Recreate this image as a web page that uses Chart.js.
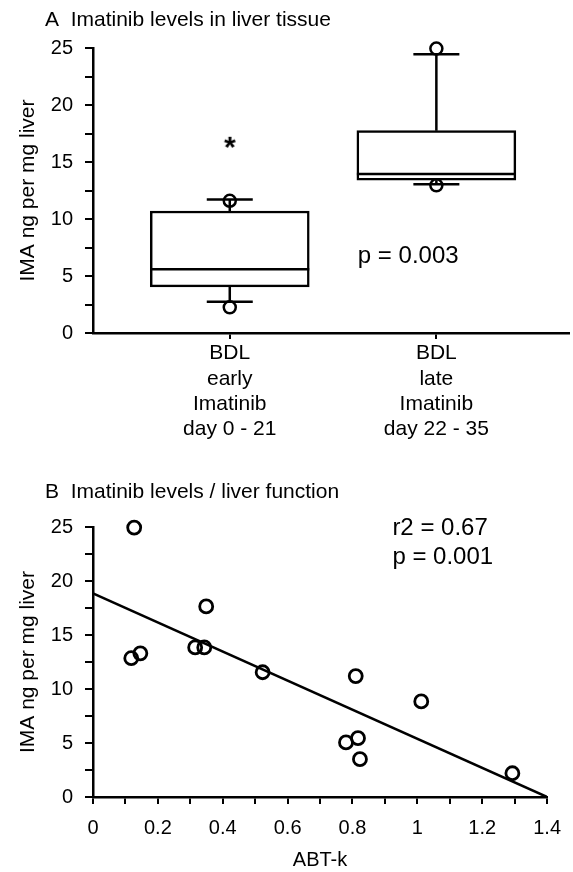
<!DOCTYPE html>
<html>
<head>
<meta charset="utf-8">
<title>Imatinib levels</title>
<script src="https://cdn.jsdelivr.net/npm/chart.js"></script>
<style>
  html, body { margin: 0; padding: 0; background: #fff; }
  canvas { position: absolute; left: 0; }
  #chartA { top: 0; }
  #chartB { top: 440px; }
</style>
</head>
<body>
<canvas id="chartA" width="573" height="440"></canvas>
<canvas id="chartB" width="573" height="432"></canvas>
<script>
// ---- panel A: box plot ----
const groups = [['BDL', 'early', 'Imatinib', 'day 0 - 21'], ['BDL', 'late', 'Imatinib', 'day 22 - 35']];
const groupPos = [1, 2];
const q1 = [4.05, 13.4];
const median = [5.6, 13.95];
const q3 = [10.7, 17.75];
const whiskerLow = [2.75, 13.05];
const whiskerHigh = [11.7, 24.45];
const pctLow = [2.25, 12.95];
const pctHigh = [11.6, 24.95];
const starX = [1];
const starY = [16.6];

// ---- panel B: scatter + regression ----
const abtK = [0.127, 0.118, 0.146, 0.315, 0.343, 0.349, 0.523, 0.81, 1.012, 0.78, 0.817, 0.823, 1.293];
const imaLevel = [24.95, 12.85, 13.3, 13.85, 13.85, 17.65, 11.55, 11.2, 8.85, 5.05, 5.45, 3.5, 2.2];
const fitX = [0, 1.4];
const fitY = [18.85, 0];

const FONT = '"Liberation Sans", Arial, sans-serif';
Chart.defaults.font.family = FONT;
Chart.defaults.color = '#000';

// writes the panel titles and stats text
const textPlugin = {
  id: 'panelText',
  afterDraw(chart, args, opts) {
    const ctx = chart.ctx;
    ctx.save();
    ctx.fillStyle = '#000';
    ctx.textBaseline = 'middle';
    (opts.items || []).forEach(t => {
      ctx.font = t.size + 'px ' + FONT;
      let x = t.px, y = t.py;
      if (t.x !== undefined) {
        x = chart.scales.x.getPixelForValue(t.x);
        y = chart.scales.y.getPixelForValue(t.y);
      }
      ctx.textAlign = 'left';
      ctx.fillText(t.text, x, y);
    });
    ctx.restore();
  }
};

// asterisk marker as a point style
const starImg = document.createElement('canvas');
starImg.width = 30; starImg.height = 30;
(function () {
  const c = starImg.getContext('2d');
  c.font = 'bold 30px ' + FONT;
  c.textAlign = 'center';
  c.textBaseline = 'alphabetic';
  c.fillStyle = '#000';
  c.fillText('*', 15, 15 + 0.57 * 30 - 4);
})();

function axisY() {
  return {
    type: 'linear', min: 0, max: 25,
    border: { color: '#000', width: 2.5 },
    grid: { drawOnChartArea: false, drawTicks: true, tickLength: 8, color: '#000', lineWidth: 2 },
    ticks: {
      stepSize: 2.5, padding: 12, font: { size: 20 },
      callback: v => (v % 5 === 0 ? String(v) : '')
    },
    title: { display: true, text: 'IMA ng per mg liver', font: { size: 21 }, padding: { top: 16, bottom: 0 } },
    afterFit: s => { s.width = 93; }
  };
}

// whisker segments with gaps between them
const whiskerData = [];
groupPos.forEach((x, i) => {
  whiskerData.push({ x, y: q3[i] }, { x, y: whiskerHigh[i] }, { x, y: null });
  whiskerData.push({ x, y: q1[i] }, { x, y: whiskerLow[i] }, { x, y: null });
});
const capData = [];
groupPos.forEach((x, i) => { capData.push({ x, y: whiskerLow[i] }, { x, y: whiskerHigh[i] }); });
const dotData = [];
groupPos.forEach((x, i) => { dotData.push({ x, y: pctLow[i] }, { x, y: pctHigh[i] }); });

new Chart(document.getElementById('chartA'), {
  type: 'bar',
  data: {
    datasets: [
      {
        type: 'line', data: whiskerData, borderColor: '#000', borderWidth: 2.5,
        pointRadius: 0, spanGaps: false, order: 4
      },
      {
        type: 'bar', data: groupPos.map((x, i) => ({ x, y: [q1[i], q3[i]] })),
        backgroundColor: '#fff', borderColor: '#000', borderWidth: 2.5,
        borderSkipped: false, barThickness: 159, order: 3
      },
      {
        type: 'line', data: groupPos.map((x, i) => ({ x, y: median[i] })), showLine: false,
        pointStyle: 'line', pointRadius: 79.5, borderColor: '#000', pointBorderWidth: 2.5, order: 1
      },
      {
        type: 'line', data: capData, showLine: false,
        pointStyle: 'line', pointRadius: 23, borderColor: '#000', pointBorderWidth: 2.5, order: 1
      },
      {
        type: 'line', data: dotData, showLine: false, clip: false,
        pointStyle: 'circle', pointRadius: 6, pointBorderWidth: 2.5,
        pointBorderColor: '#000', pointBackgroundColor: 'rgba(0,0,0,0)', order: 0
      },
      {
        type: 'line', data: starX.map((x, i) => ({ x, y: starY[i] })), showLine: false,
        pointStyle: starImg, order: 0
      }
    ]
  },
  options: {
    responsive: false, animation: false,
    layout: { autoPadding: false, padding: { top: 48, right: 4, left: 0, bottom: 0 } },
    plugins: {
      legend: { display: false }, tooltip: { enabled: false },
      panelText: { items: [
        { text: 'A  Imatinib levels in liver tissue', px: 45, py: 20, size: 21 },
        { text: 'p = 0.003', x: 1.62, y: 6.7, size: 24 }
      ] }
    },
    scales: {
      x: {
        type: 'linear', min: 0.338, max: 2.642, offset: false,
        border: { color: '#000', width: 2.5 },
        grid: { offset: false, drawOnChartArea: false, drawTicks: true, tickLength: 6, color: '#000', lineWidth: 2 },
        afterBuildTicks: s => { s.ticks = groupPos.map(v => ({ value: v })); },
        ticks: {
          padding: 2, autoSkip: false, maxRotation: 0,
          font: { size: 21, lineHeight: 1.2 },
          callback: (v, i) => groups[i]
        },
        afterFit: s => { s.height = 107; }
      },
      y: axisY()
    }
  },
  plugins: [textPlugin]
});

new Chart(document.getElementById('chartB'), {
  type: 'scatter',
  data: {
    datasets: [
      {
        type: 'line', data: fitX.map((x, i) => ({ x, y: fitY[i] })),
        borderColor: '#000', borderWidth: 2.5, pointRadius: 0, order: 2
      },
      {
        data: abtK.map((x, i) => ({ x, y: imaLevel[i] })), clip: false,
        pointStyle: 'circle', pointRadius: 6.5, pointBorderWidth: 2.8,
        pointBorderColor: '#000', pointBackgroundColor: 'rgba(0,0,0,0)', order: 1
      }
    ]
  },
  options: {
    responsive: false, animation: false,
    layout: { autoPadding: false, padding: { top: 87, right: 22, left: 0, bottom: 0 } },
    plugins: {
      legend: { display: false }, tooltip: { enabled: false },
      panelText: { items: [
        { text: 'B  Imatinib levels / liver function', px: 45, py: 52, size: 21 },
        { text: 'r2 = 0.67', x: 0.923, y: 24.9, size: 24 },
        { text: 'p = 0.001', x: 0.923, y: 22.2, size: 24 }
      ] }
    },
    scales: {
      x: {
        type: 'linear', min: 0, max: 1.4,
        border: { color: '#000', width: 2.5 },
        grid: { drawOnChartArea: false, drawTicks: true, tickLength: 7, color: '#000', lineWidth: 2 },
        ticks: {
          stepSize: 0.1, autoSkip: false, maxRotation: 0, padding: 12, font: { size: 20 },
          callback: v => {
            const t = Math.round(v * 10);
            return t % 2 === 0 ? String(t / 10) : '';
          }
        },
        title: { display: true, text: 'ABT-k', font: { size: 20 }, padding: { top: 0, bottom: 0 } },
        afterFit: s => { s.height = 75; }
      },
      y: axisY()
    }
  },
  plugins: [textPlugin]
});
</script>
</body>
</html>
